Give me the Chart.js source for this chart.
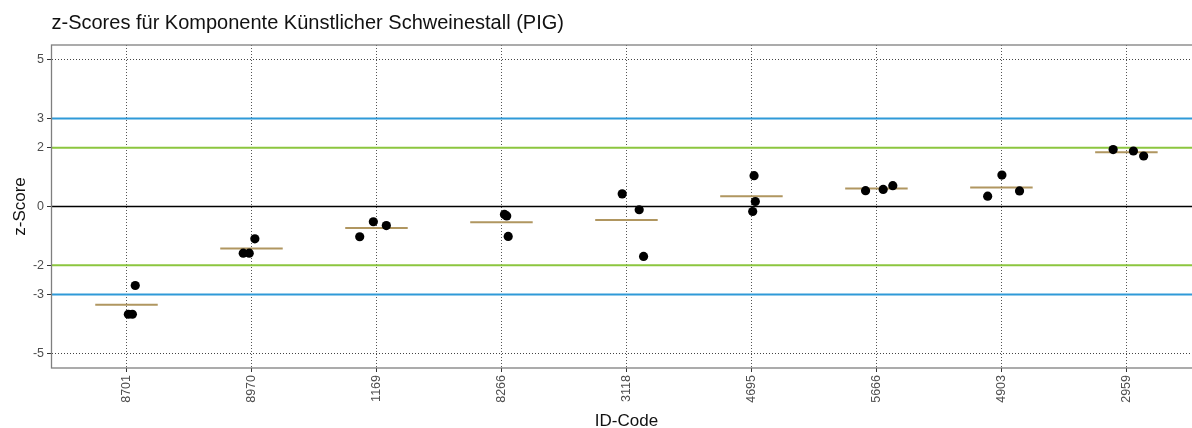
<!DOCTYPE html>
<html>
<head>
<meta charset="utf-8">
<script src="https://cdn.jsdelivr.net/npm/chart.js@4"></script>
<style>
  html, body { margin: 0; padding: 0; background: #fff; overflow: hidden; }
  #wrap { width: 1206px; height: 428px; }
</style>
</head>
<body>
<div id="wrap"><canvas id="chart" width="1206" height="428"></canvas></div>
<script>
// Teilnehmer (ID-Code) in Anzeige-Reihenfolge
const idCodes = ['8701', '8970', '1169', '8266', '3118', '4695', '5666', '4903', '2959'];

// z-Scores je Teilnehmer (3 Messungen)
const zScores = [
  [-2.69, -3.67, -3.67],
  [-1.10, -1.59, -1.59],
  [-0.52, -0.65, -1.03],
  [-0.27, -0.32, -1.02],
  [ 0.43, -0.11, -1.70],
  [ 1.05,  0.17, -0.17],
  [ 0.54,  0.58,  0.71],
  [ 0.35,  1.07,  0.53],
  [ 1.94,  1.89,  1.72]
];

// horizontaler Jitter der Punkte (in Kategorie-Einheiten)
const jitter = [
  [ 0.07,  0.015,  0.047],
  [ 0.027, -0.066, -0.018],
  [-0.025,  0.079, -0.134],
  [ 0.024,  0.042,  0.054],
  [-0.034,  0.102,  0.137],
  [ 0.021,  0.031,  0.01],
  [-0.087,  0.054,  0.131],
  [-0.11,   0.004,  0.145],
  [-0.106,  0.056,  0.138]
];

const yTicks = [5, 3, 2, 0, -2, -3, -5];
const warnLimits = [2, -2];
const actionLimits = [3, -3];

const FONT = "'Liberation Sans', Arial, sans-serif";

// Punkte + Mittelwert-Striche
const points = [];
const means = [];
zScores.forEach((vals, i) => {
  vals.forEach((v, j) => points.push({ x: i + 1 + jitter[i][j], y: v }));
  const m = vals.reduce((a, b) => a + b, 0) / vals.length;
  means.push({ x: i + 0.75, y: m }, { x: i + 1.25, y: m }, { x: i + 1.5, y: null });
});

const hline = (y, color, width) => ({
  data: [{ x: 0.4, y }, { x: 9.6, y }],
  showLine: true, borderColor: color, borderWidth: width,
  pointRadius: 0, order: 3
});

const framePlugin = {
  id: 'frame',
  afterDraw(chart) {
    const { ctx, chartArea: a } = chart;
    ctx.save();
    ctx.strokeStyle = '#7f7f7f';
    ctx.lineWidth = 1.3;
    ctx.strokeRect(a.left, a.top, a.right - a.left, a.bottom - a.top);
    ctx.restore();
  }
};

new Chart(document.getElementById('chart'), {
  type: 'scatter',
  data: {
    datasets: [
      { data: points, backgroundColor: '#000', borderWidth: 0, pointRadius: 4.6, order: 0 },
      { data: means, showLine: true, spanGaps: false, borderColor: '#b09660', borderWidth: 2, pointRadius: 0, order: 1 },
      hline(0, '#000', 1.6),
      ...warnLimits.map(y => hline(y, '#8cc63f', 2)),
      ...actionLimits.map(y => hline(y, '#2f9ad8', 2))
    ]
  },
  options: {
    responsive: false,
    animation: false,
    layout: { padding: { left: 0, right: 2.7, top: 0, bottom: 0 } },
    plugins: {
      legend: { display: false },
      tooltip: { enabled: false },
      title: {
        display: true,
        text: 'z-Scores für Komponente Künstlicher Schweinestall (PIG)',
        align: 'start',
        fullSize: false,
        color: '#111',
        font: { family: FONT, size: 20, weight: 'normal', lineHeight: 1.2 },
        padding: { top: 11, bottom: 10 }
      }
    },
    scales: {
      x: {
        type: 'linear',
        min: 0.4, max: 9.6,
        afterFit: s => { s.height = 60; },
        afterBuildTicks: s => { s.ticks = idCodes.map((_, i) => ({ value: i + 1 })); },
        ticks: {
          callback: v => idCodes[v - 1],
          minRotation: 90, maxRotation: 90,
          autoSkip: false,
          padding: 3,
          color: '#4d4d4d',
          font: { family: FONT, size: 12.5 }
        },
        grid: { color: '#555', tickColor: '#333', tickLength: 4, tickBorderDash: [] },
        border: { display: false, dash: [1, 2] },
        title: {
          display: true, text: 'ID-Code', color: '#111',
          font: { family: FONT, size: 17, lineHeight: 0.8 },
          padding: { top: 0, bottom: 0 }
        }
      },
      y: {
        min: -5.5, max: 5.5,
        afterFit: s => { s.width = 51.5; },
        afterBuildTicks: s => { s.ticks = yTicks.map(v => ({ value: v })); },
        ticks: { padding: 3, color: '#4d4d4d', font: { family: FONT, size: 12.5 } },
        grid: {
          color: c => (Math.abs(c.tick && c.tick.value) === 5 ? '#444' : 'rgba(0,0,0,0)'),
          tickColor: '#333', tickLength: 4.5, tickBorderDash: []
        },
        border: { display: false, dash: [1, 2] },
        title: {
          display: true, text: 'z-Score', color: '#111',
          font: { family: FONT, size: 17, lineHeight: 1.2 },
          padding: { top: 10, bottom: 0 }
        }
      }
    }
  },
  plugins: [framePlugin]
});
</script>
</body>
</html>
